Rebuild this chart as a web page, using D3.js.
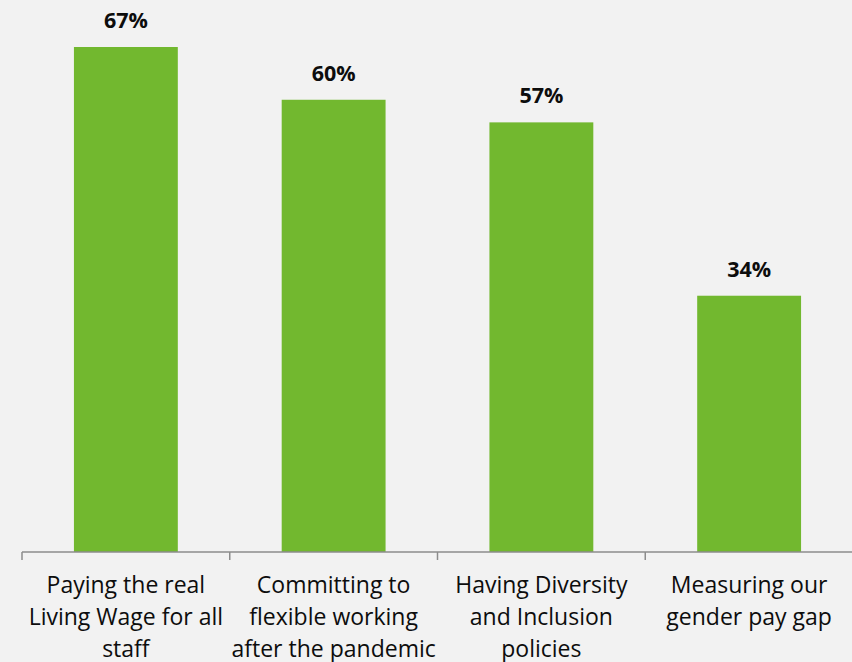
<!DOCTYPE html>
<html>
<head>
<meta charset="utf-8">
<script src="https://cdn.jsdelivr.net/npm/d3@7"></script>
<style>
  html, body { margin: 0; padding: 0; background: #f2f2f2; }
  svg { display: block; }
</style>
</head>
<body>
<svg id="chart" width="852" height="662"></svg>
<script>
// Share of respondents for each workplace commitment
const categories = [
  ["Paying the real", "Living Wage for all", "staff"],
  ["Committing to", "flexible working", "after the pandemic"],
  ["Having Diversity", "and Inclusion", "policies"],
  ["Measuring our", "gender pay gap"]
];
const values = [67, 60, 57, 34];
const valueLabels = ["67%", "60%", "57%", "34%"];

const svg = d3.select("#chart");
const W = 852, H = 662;
const baseline = 552;

const keys = categories.map((c, i) => i);
const x = d3.scaleBand().domain(keys).range([22, 853]).paddingInner(0.5).paddingOuter(0.25);
const y = d3.scaleLinear().domain([0, 67]).range([baseline, 47]);

svg.append("rect").attr("width", W).attr("height", H).attr("fill", "#f2f2f2");

// bars
svg.selectAll("rect.bar")
  .data(values)
  .join("rect")
  .attr("class", "bar")
  .attr("x", (d, i) => x(i))
  .attr("width", x.bandwidth())
  .attr("y", d => y(d))
  .attr("height", d => y(0) - y(d))
  .attr("fill", "#72b82f");

// value labels
svg.selectAll("text.val")
  .data(values)
  .join("text")
  .attr("class", "val")
  .attr("x", (d, i) => x(i) + x.bandwidth() / 2)
  .attr("y", d => y(d) - 19)
  .attr("text-anchor", "middle")
  .attr("font-family", "'Open Sans', sans-serif")
  .attr("font-weight", "bold")
  .attr("font-size", 21.5)
  .attr("fill", "#0d0d0d")
  .text((d, i) => valueLabels[i]);

// category axis with boundary ticks
const axisG = svg.append("g");
const step = x.step();
const left = 22;
axisG.append("line")
  .attr("x1", left).attr("x2", 853)
  .attr("y1", baseline).attr("y2", baseline)
  .attr("stroke", "#8c8c8c").attr("stroke-width", 1.5);
keys.concat([keys.length]).forEach(i => {
  const tx = left + i * step;
  axisG.append("line")
    .attr("x1", tx).attr("x2", tx)
    .attr("y1", baseline).attr("y2", baseline + 8)
    .attr("stroke", "#8c8c8c").attr("stroke-width", 1.5);
});

// category labels
const labels = svg.selectAll("text.cat")
  .data(categories)
  .join("text")
  .attr("class", "cat")
  .attr("text-anchor", "middle")
  .attr("font-family", "'Open Sans', sans-serif")
  .attr("font-size", 23)
  .attr("fill", "#0d0d0d");
labels.each(function(lines, i) {
  const t = d3.select(this);
  lines.forEach((ln, j) => {
    t.append("tspan")
      .attr("x", x(i) + x.bandwidth() / 2)
      .attr("y", 593 + j * 32)
      .text(ln);
  });
});
</script>
</body>
</html>
